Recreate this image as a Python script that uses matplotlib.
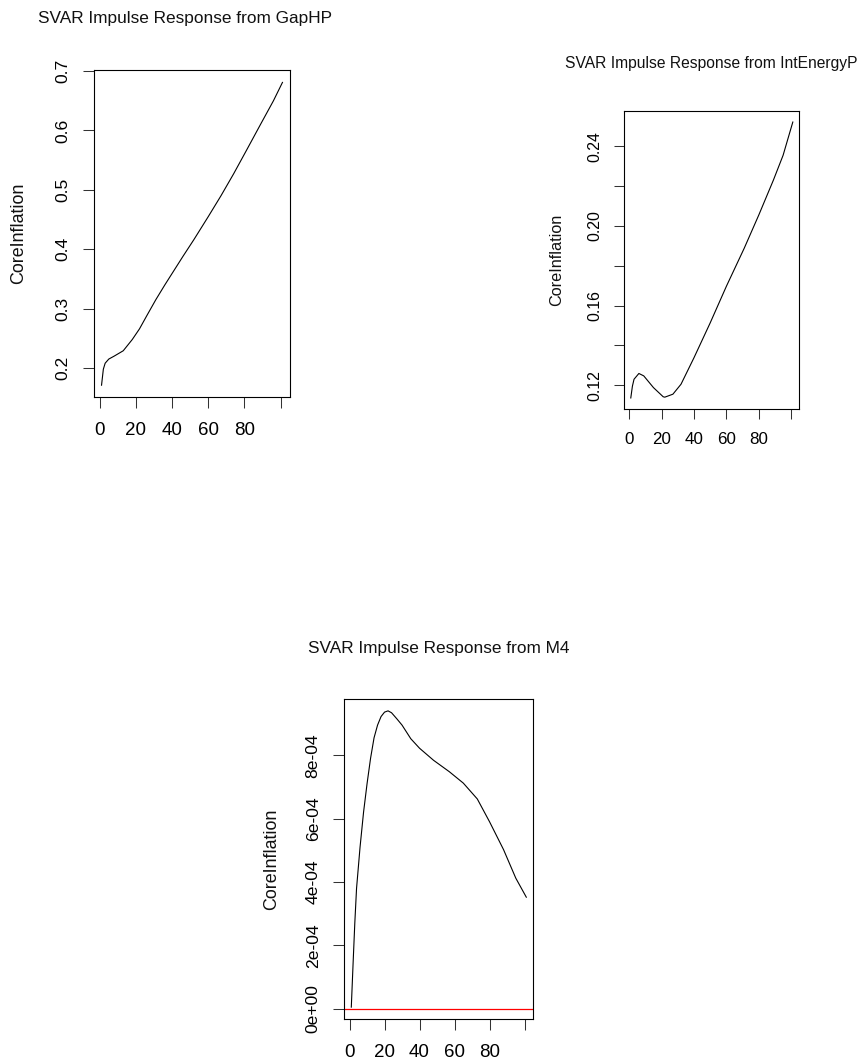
import matplotlib
matplotlib.use("Agg")
import matplotlib.pyplot as plt

plt.rcParams['font.family'] = ['Liberation Sans', 'DejaVu Sans']

# ---------------- data ----------------
gap_x = [1, 2, 3, 5, 8, 13, 18, 22, 26, 31, 36, 41, 46, 52, 60, 67, 74, 81, 89, 96, 101]
gap_y = [0.171, 0.198, 0.208, 0.215, 0.220, 0.229, 0.248, 0.266, 0.288, 0.315, 0.340,
         0.364, 0.388, 0.416, 0.455, 0.490, 0.527, 0.566, 0.611, 0.650, 0.681]

energy_x = [1, 2, 3, 6, 9, 15, 21, 22, 27, 32, 40, 50, 60, 71, 80, 89, 95, 101]
energy_y = [0.1136, 0.1195, 0.1230, 0.1259, 0.1247, 0.1188, 0.1142, 0.1140, 0.1155, 0.1205,
            0.1338, 0.1513, 0.1697, 0.1888, 0.2055, 0.2230, 0.2355, 0.2522]

m4_x = [1, 2, 3, 4, 6, 8, 10, 12, 14, 16, 18, 20, 22, 24, 27, 30, 35, 40, 48, 57, 65,
        73, 80, 88, 95, 101]
m4_y = [0.05e-4, 1.40e-4, 2.70e-4, 3.80e-4, 5.10e-4, 6.20e-4, 7.10e-4, 7.90e-4, 8.55e-4,
        8.95e-4, 9.22e-4, 9.36e-4, 9.40e-4, 9.34e-4, 9.15e-4, 8.95e-4, 8.52e-4, 8.22e-4,
        7.84e-4, 7.48e-4, 7.12e-4, 6.62e-4, 5.90e-4, 5.02e-4, 4.12e-4, 3.52e-4]

x_ticks = [0, 20, 40, 60, 80, 100]
x_ticklabels = ['0', '20', '40', '60', '80', '']

gap_yticks = [0.2, 0.3, 0.4, 0.5, 0.6, 0.7]
gap_yticklabels = ['0.2', '0.3', '0.4', '0.5', '0.6', '0.7']

energy_yticks = [0.12, 0.14, 0.16, 0.18, 0.20, 0.22, 0.24]
energy_yticklabels = ['0.12', '', '0.16', '', '0.20', '', '0.24']

m4_yticks = [0, 2e-4, 4e-4, 6e-4, 8e-4]
m4_yticklabels = ['0e+00', '2e-04', '4e-04', '6e-04', '8e-04']

titles = ['SVAR Impulse Response from GapHP',
          'SVAR Impulse Response from IntEnergyP',
          'SVAR Impulse Response from M4']
ylabel = 'CoreInflation'

# ---------------- layout ----------------
W, H = 861, 1061
fig = plt.figure(figsize=(W / 100, H / 100), dpi=100)


def make_panel(box, xs, ys, yticks, yticklabels, title, title_cx, title_base,
               ylab_x, scale, zero_line=False):
    l, t, r, b = box
    ax = fig.add_axes([l / W, 1 - b / H, (r - l) / W, (b - t) / H])
    ax.plot(xs, ys, color='black', lw=0.8)
    ax.margins(x=0.04, y=0.04)
    if zero_line:
        ax.axhline(0, color='#ff0000', lw=0.9)
    ax.set_xticks(x_ticks)
    ax.set_xticklabels(x_ticklabels)
    ax.set_yticks(yticks)
    ax.set_yticklabels(yticklabels, rotation=90, va='center')
    ax.tick_params(axis='both', length=8 * scale, width=0.75, color='#333333')
    ax.tick_params(axis='x', pad=10 * scale, labelsize=13.5 * scale)
    ax.tick_params(axis='y', pad=9 * scale, labelsize=12.6 * scale)
    for s in ax.spines.values():
        s.set_linewidth(0.8)
    fig.text(title_cx / W, 1 - title_base / H, title, ha='center',
             va='baseline', fontsize=12.4 * scale, color='#111111')
    fig.text(ylab_x / W, 1 - ((t + b) / 2) / H, ylabel, rotation=90,
             ha='center', va='center', fontsize=12.9 * scale, color='#111111')
    return ax


make_panel((94.3, 70.3, 289.7, 397.3), gap_x, gap_y, gap_yticks, gap_yticklabels,
           titles[0], 185, 22.7, 19, 1.0)
make_panel((624.3, 111, 799.3, 409), energy_x, energy_y, energy_yticks,
           energy_yticklabels, titles[1], 711, 67.7, 557, 0.91)
make_panel((344.3, 699, 533.3, 1019), m4_x, m4_y, m4_yticks, m4_yticklabels,
           titles[2], 439, 653, 271.7, 1.0, zero_line=True)

fig.savefig('out.png', dpi=100)
